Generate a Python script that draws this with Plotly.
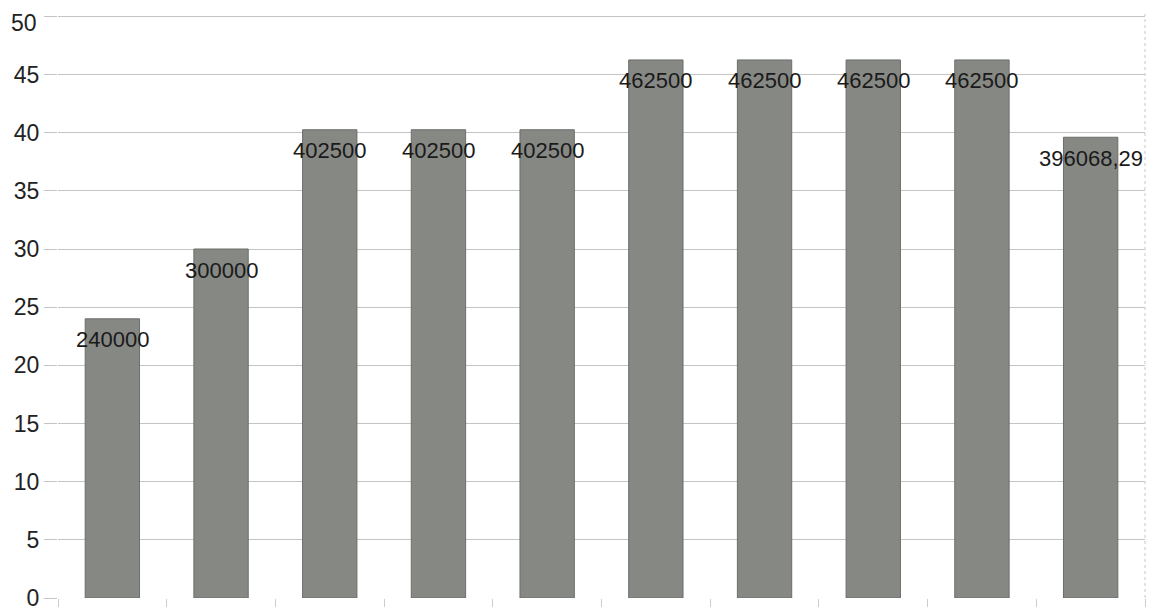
import plotly.graph_objects as go

categories = ["k1", "k2", "k3", "k4", "k5", "k6", "k7", "k8", "k9", "k10"]
values = [24, 30, 40.25, 40.25, 40.25, 46.25, 46.25, 46.25, 46.25, 39.606829]
labels = ["240000", "300000", "402500", "402500", "402500",
          "462500", "462500", "462500", "462500", "396068,29"]
y_ticks = [0, 5, 10, 15, 20, 25, 30, 35, 40, 45, 50]

fig = go.Figure()
fig.add_trace(go.Bar(
    x=categories, y=values, width=0.5,
    marker=dict(color="#868884", line=dict(color="#6c6e6b", width=1)),
    hoverinfo="skip",
))

for c, v, t in zip(categories, values, labels):
    fig.add_annotation(x=c, y=v, text=t, showarrow=False, yanchor="middle",
                       yshift=-21, font=dict(family="Liberation Sans", size=22, color="#1a1a1a"))

# top tick label (plotly hides it at the figure edge), drawn as text at the axis value
top_tick = y_ticks[-1]
fig.add_annotation(xref="paper", x=0, y=top_tick, text=str(top_tick), showarrow=False,
                   xanchor="right", yanchor="top", xshift=-19, yshift=8,
                   font=dict(family="Liberation Sans", size=23, color="#222222"))

fig.add_shape(type="line", xref="paper", yref="paper", x0=1, x1=1, y0=0, y1=1,
              line=dict(color="#c8c8c8", width=1, dash="dot"))

fig.update_layout(
    width=1154, height=609,
    margin=dict(l=50, r=17, t=6, b=19, autoexpand=False),
    paper_bgcolor="white", plot_bgcolor="white",
    showlegend=False,
    font=dict(family="Liberation Sans", color="#222222"),
    xaxis=dict(type="category", categoryorder="array", categoryarray=categories,
               range=[-0.5, 9.5], showticklabels=False, showgrid=False, zeroline=False,
               ticks="outside", tickson="boundaries", ticklen=8, tickcolor="#cccccc",
               showline=False, automargin=False),
    yaxis=dict(range=[0, 50.2], tickvals=y_ticks, showgrid=True, gridcolor="#c4c4c4",
               gridwidth=1, zeroline=False, showline=False, automargin=False,
               ticks="outside", ticklen=13, tickcolor="#c4c4c4",
               tickfont=dict(family="Liberation Sans", size=23, color="#222222")),
)

fig.write_html("out.html")
